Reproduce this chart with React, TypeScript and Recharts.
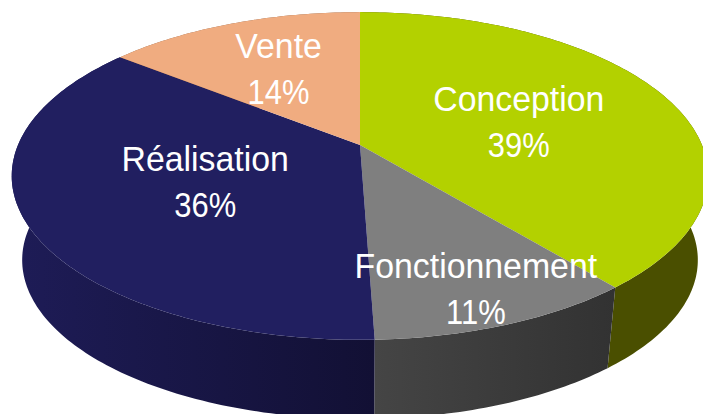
import React from "react";
import { PieChart, Pie } from "recharts";

const categories = ["Conception", "Fonctionnement", "Réalisation", "Vente"];
const shares = [39, 11, 36, 14];
const topColors = ["#B3D100", "#7F7F7F", "#211F60", "#F0AC80"];
const wallFrom = ["#4A4F00", "#454545", "#1E1C57", "#8A6045"];
const wallTo = ["#4A4F00", "#323232", "#121034", "#8A6045"];
const labelDepth = [0.525, 0.785, 0.46, 0.65];

const data = categories.map((name, i) => ({ name, value: shares[i] }));

const W = 703, H = 414;
const CX = 360, CY = 145, R = 158;
const ASPECT = 342 / 158, TILT = 0.189;
const WALL_SCALE = 0.97, WALL_DROP = 85;
const rad = Math.PI / 180;

// Perspective projection of a point of the flat disc (theta: clockwise from the top).
function project(theta: number, f = 1, wall = false) {
  const bend =
    Math.max(0, 1 - Math.abs(theta - 180) / 40) * 2 +
    Math.max(0, 1 - Math.abs(theta - 309.6) / 30) * 1.2;
  const t = (theta - bend) * rad;
  const d = 1 + TILT * Math.cos(t);
  let x = (R * ASPECT * Math.sin(t) * f) / d;
  let y = (-R * Math.cos(t) * f) / d;
  if (wall) {
    x *= WALL_SCALE;
    y = y * WALL_SCALE + WALL_DROP;
  }
  return [CX + x, CY + y];
}

function arc(a: number, b: number, wall = false) {
  const n = Math.max(2, Math.ceil(Math.abs(b - a)));
  const pts: string[] = [];
  for (let i = 0; i <= n; i++) {
    const [x, y] = project(a + ((b - a) * i) / n, 1, wall);
    pts.push(`${x.toFixed(2)},${y.toFixed(2)}`);
  }
  return pts;
}

const TopSlice = (p: any) => {
  const a = 90 - p.startAngle, b = 90 - p.endAngle;
  const pts = [`${CX},${CY}`, ...arc(a, b)];
  return <path d={`M${pts.join("L")}Z`} fill={topColors[p.index]} />;
};

const WallSlice = (p: any) => {
  const a = 90 - p.startAngle, b = 90 - p.endAngle;
  const top = arc(a, b);
  const low = arc(a, b, true);
  let d = "";
  for (let i = 0; i + 1 < top.length; i++) {
    d += `M${top[i]}L${top[i + 1]}L${low[i + 1]}L${low[i]}Z`;
  }
  return <path d={d} fill={`url(#wall${p.index})`} fillRule="nonzero" />;
};

const SliceLabel = (p: any) => {
  const [x, y] = project(90 - p.midAngle, labelDepth[p.index]);
  const style = {
    fontFamily: "'Liberation Sans', sans-serif",
    fontSize: 36,
    fill: "#FFFFFF",
  };
  return (
    <g>
      <text
        transform={`translate(${x} ${y - 8}) scale(0.94 1)`}
        textAnchor="middle"
        style={style}
      >
        {categories[p.index]}
      </text>
      <text
        transform={`translate(${x} ${y + 38}) scale(0.86 1)`}
        textAnchor="middle"
        style={style}
      >
        {shares[p.index]}%
      </text>
    </g>
  );
};

export default function App() {
  return (
    <div style={{ position: "absolute", left: 0, top: 0, width: W, height: H, overflow: "hidden", background: "#fff" }}>
      <PieChart width={W} height={H} margin={{ top: 0, right: 0, bottom: 0, left: 0 }}>
        <defs>
          {categories.map((_, i) => (
            <linearGradient key={i} id={`wall${i}`} x1="0" y1="0" x2="1" y2="0">
              <stop offset="0%" stopColor={wallFrom[i]} />
              <stop offset="100%" stopColor={wallTo[i]} />
            </linearGradient>
          ))}
        </defs>
        <Pie
          data={data}
          dataKey="value"
          cx={CX}
          cy={CY}
          outerRadius={R}
          startAngle={90}
          endAngle={-270}
          paddingAngle={0}
          stroke="none"
          shape={WallSlice}
          isAnimationActive={false}
        />
        <Pie
          data={data}
          dataKey="value"
          cx={CX}
          cy={CY}
          outerRadius={R}
          startAngle={90}
          endAngle={-270}
          paddingAngle={0}
          stroke="none"
          shape={TopSlice}
          label={SliceLabel}
          labelLine={false}
          isAnimationActive={false}
        />
      </PieChart>
    </div>
  );
}
